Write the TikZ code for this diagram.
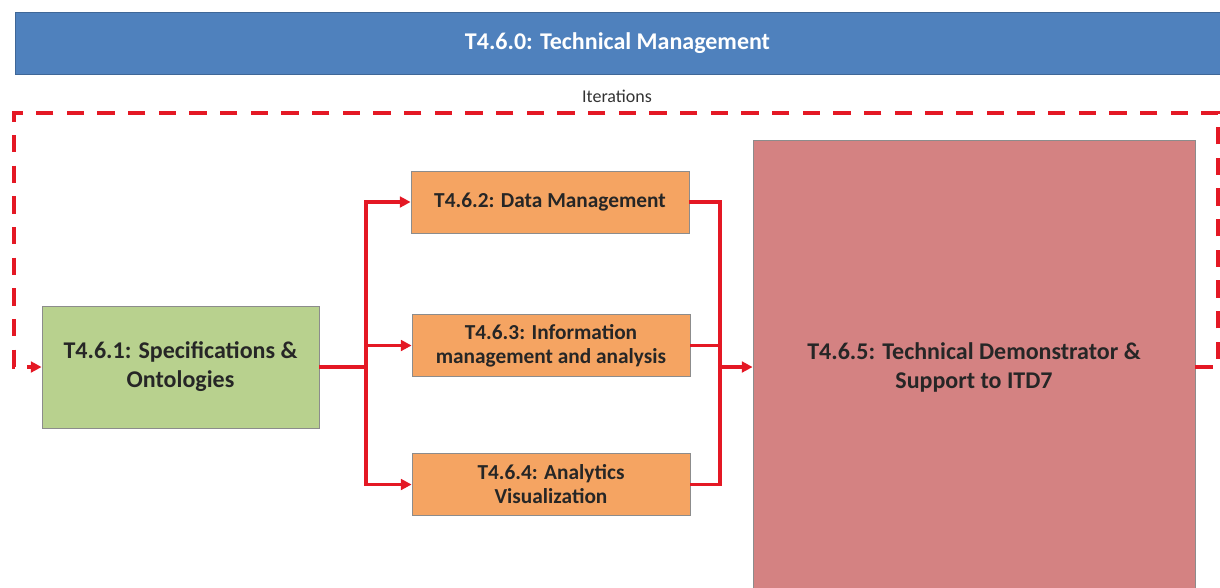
\documentclass[tikz,border=0pt]{standalone}
\usepackage{fontspec}
\setmainfont{Carlito}
\usetikzlibrary{arrows.meta}
\definecolor{bannerblue}{RGB}{79,129,189}
\definecolor{specgreen}{RGB}{184,209,142}
\definecolor{taskorange}{RGB}{245,164,98}
\definecolor{demored}{RGB}{212,130,130}
\definecolor{flowred}{RGB}{228,24,36}
\begin{document}
\begin{tikzpicture}[x=0.75pt, y=-0.75pt,
  box/.style={draw=black!45, line width=0.6pt, align=center, text=black!85,
    font=\fontsize{18}{21.75}\selectfont\bfseries},
  task/.style={box, fill=taskorange, minimum width=208.5pt, minimum height=46.5pt,
    font=\fontsize{16}{18}\selectfont\bfseries},
  flow/.style={draw=flowred, line width=2.5pt},
  flowarrow/.style={flow, -{Triangle[length=8pt,width=8pt]}},
  iterloop/.style={draw=flowred, line width=2.5pt, dash pattern=on 13pt off 10pt,
    -{Triangle[length=8pt,width=8pt]}}]
\useasboundingbox (0,0) rectangle (1220,587);
\begin{scope}
\clip (0,0) rectangle (1220,587);
\node[box, fill=bannerblue, draw=bannerblue!80!black, text=white, minimum width=903.75pt,
  minimum height=46.5pt] (mgmt) at (617.5,43) {T4.6.0: Technical Management};
\node[font=\fontsize{13.5}{15}\selectfont, text=black!80] (iter) at (617,96) {Iterations};
\node[box, fill=specgreen, minimum width=207.75pt, minimum height=91.5pt] (spec)
  at (180.5,367) {T4.6.1: Specifications \&\\Ontologies};
\node[task] (data) at (550,202) {T4.6.2: Data Management};
\node[task] (info) at (551,345.5) {T4.6.3: Information\\management and analysis};
\node[task] (ana) at (551,484.5) {T4.6.4: Analytics\\Visualization};
\node[box, fill=demored, minimum width=331.5pt, minimum height=340.5pt] (demo)
  at (974,367) {T4.6.5: Technical Demonstrator \&\\Support to ITD7};
\coordinate (split) at (366,367);
\coordinate (merge) at (720,367);
\coordinate (loopR) at (1218,113);
\coordinate (loopL) at (14,113);
\draw[flow] (spec.east) -- (split);
\draw[flowarrow] (split) |- (data.west);
\draw[flowarrow] (split) |- (ana.west);
\draw[flowarrow] (split |- info.west) -- (info.west);
\draw[flow] (data.east) -| (merge);
\draw[flow] (ana.east) -| (merge);
\draw[flow] (info.east) -- (info.east -| merge);
\draw[flowarrow] (merge) -- (demo.west);
\draw[iterloop] (demo.east) -| (loopR) -- (loopL) |- (spec.west);
\end{scope}
\end{tikzpicture}
\end{document}
